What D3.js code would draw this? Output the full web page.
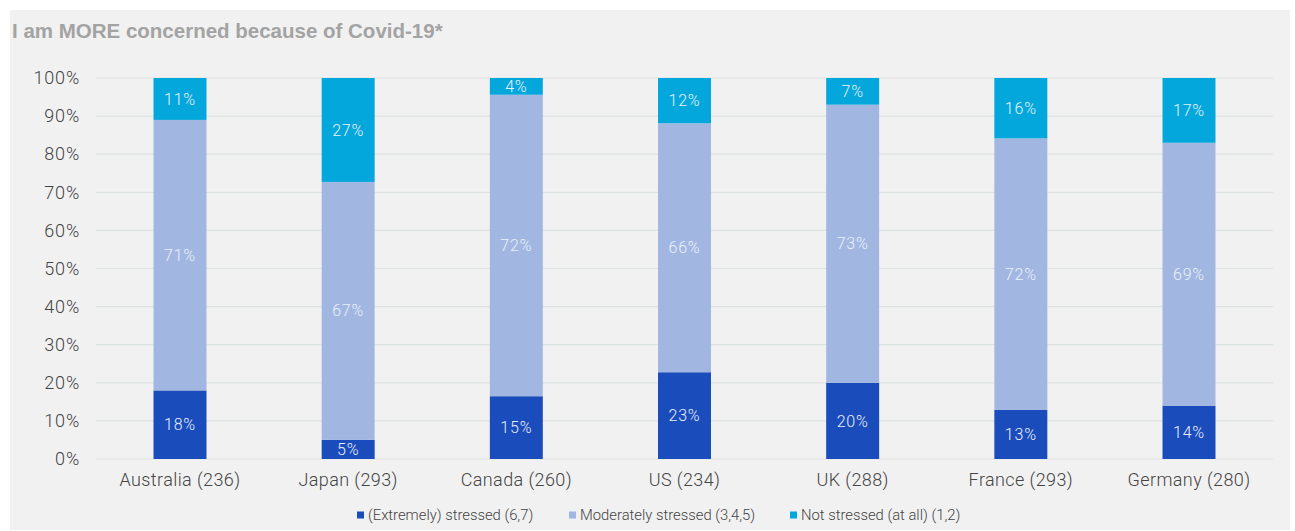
<!DOCTYPE html>
<html>
<head>
<meta charset="utf-8">
<script src="https://d3js.org/d3.v7.min.js"></script>
<style>
  body { margin: 0; background: #fff; }
  text { font-family: Roboto, "Noto Sans", sans-serif; }
</style>
</head>
<body>
<div id="chart"></div>
<script>
var countries = ["Australia (236)", "Japan (293)", "Canada (260)", "US (234)", "UK (288)", "France (293)", "Germany (280)"];
var extremely = [18, 5, 15, 23, 20, 13, 14];
var moderately = [71, 67, 72, 66, 73, 72, 69];
var notStressed = [11, 27, 4, 12, 7, 16, 17];
var seriesNames = ["(Extremely) stressed (6,7)", "Moderately stressed (3,4,5)", "Not stressed (at all) (1,2)"];
var yTicks = [0, 0.1, 0.2, 0.3, 0.4, 0.5, 0.6, 0.7, 0.8, 0.9, 1];

var W = 1295, H = 531;
var colors = ["#1a4cbc", "#a1b7e1", "#04a7dc"];
var keys = ["ext", "mod", "not"];

var rows = countries.map(function(c, i) {
  return { country: c, ext: extremely[i], mod: moderately[i], not: notStressed[i] };
});

var svg = d3.select("#chart").append("svg")
  .attr("width", W).attr("height", H);

svg.append("rect").attr("x", 10).attr("y", 10)
  .attr("width", 1280).attr("height", 520).attr("fill", "#f1f1f1");

svg.append("text").attr("x", 12).attr("y", 38)
  .attr("font-size", 20.5).attr("font-weight", "bold").attr("fill", "#a3a3a3")
  .style("font-family", "Arial, 'Liberation Sans', sans-serif")
  .text("I am MORE concerned because of Covid-19*");

var x = d3.scaleBand().domain(countries).range([96, 1273]).paddingInner(0.685).paddingOuter(0.342);
var y = d3.scaleLinear().domain([0, 1]).range([459, 78]);

// grid
svg.append("g").selectAll("line").data(yTicks).enter().append("line")
  .attr("x1", 96).attr("x2", 1273)
  .attr("y1", function(d) { return y(d); }).attr("y2", function(d) { return y(d); })
  .attr("stroke", "#dde3e2").attr("stroke-width", 1.2);

var yAxis = svg.append("g").attr("transform", "translate(86,0)")
  .call(d3.axisLeft(y).tickValues(yTicks).tickFormat(d3.format(".0%")).tickSize(0).tickPadding(6));
yAxis.select(".domain").remove();
yAxis.selectAll("text").attr("font-size", 18).attr("fill", "#444")
  .style("font-family", "Roboto, sans-serif").style("font-weight", 300).style("letter-spacing", "0.8px");

var xAxis = svg.append("g").attr("transform", "translate(0,459)")
  .call(d3.axisBottom(x).tickSize(0).tickPadding(14));
xAxis.select(".domain").remove();
xAxis.selectAll("text").attr("font-size", 18).attr("fill", "#444")
  .style("font-family", "Roboto, sans-serif").style("font-weight", 300).style("letter-spacing", "0.4px");

var stack = d3.stack().keys(keys).offset(d3.stackOffsetExpand);
var series = stack(rows);

var groups = svg.append("g").selectAll("g").data(series).enter().append("g")
  .attr("fill", function(d, i) { return colors[i]; });

groups.selectAll("rect").data(function(d) { return d; }).enter().append("rect")
  .attr("x", function(d) { return x(d.data.country); })
  .attr("width", x.bandwidth())
  .attr("y", function(d) { return y(d[1]); })
  .attr("height", function(d) { return y(d[0]) - y(d[1]); });

var labels = svg.append("g").selectAll("g").data(series).enter().append("g");
labels.selectAll("text").data(function(d) { return d.map(function(p) { return { p: p, key: d.key }; }); })
  .enter().append("text")
  .attr("x", function(d) { return x(d.p.data.country) + x.bandwidth() / 2; })
  .attr("y", function(d) { return (y(d.p[0]) + y(d.p[1])) / 2; })
  .attr("dy", "0.35em")
  .attr("text-anchor", "middle")
  .attr("font-size", 16).attr("font-weight", 300)
  .style("letter-spacing", "0.8px")
  .attr("fill", "#eaf0fa")
  .text(function(d) { return d.p.data[d.key] + "%"; });

// legend
var legendX = [357, 569, 790];
var legend = svg.append("g").selectAll("g").data(seriesNames).enter().append("g")
  .attr("transform", function(d, i) { return "translate(" + legendX[i] + ",515)"; });
legend.append("rect").attr("x", 0).attr("y", -3.5).attr("width", 7).attr("height", 7)
  .attr("fill", function(d, i) { return colors[i]; });
legend.append("text").attr("x", 11).attr("y", 0).attr("dy", "0.35em")
  .attr("font-size", 14.8).attr("font-weight", 300).attr("fill", "#444")
  .text(function(d) { return d; });
</script>
</body>
</html>
